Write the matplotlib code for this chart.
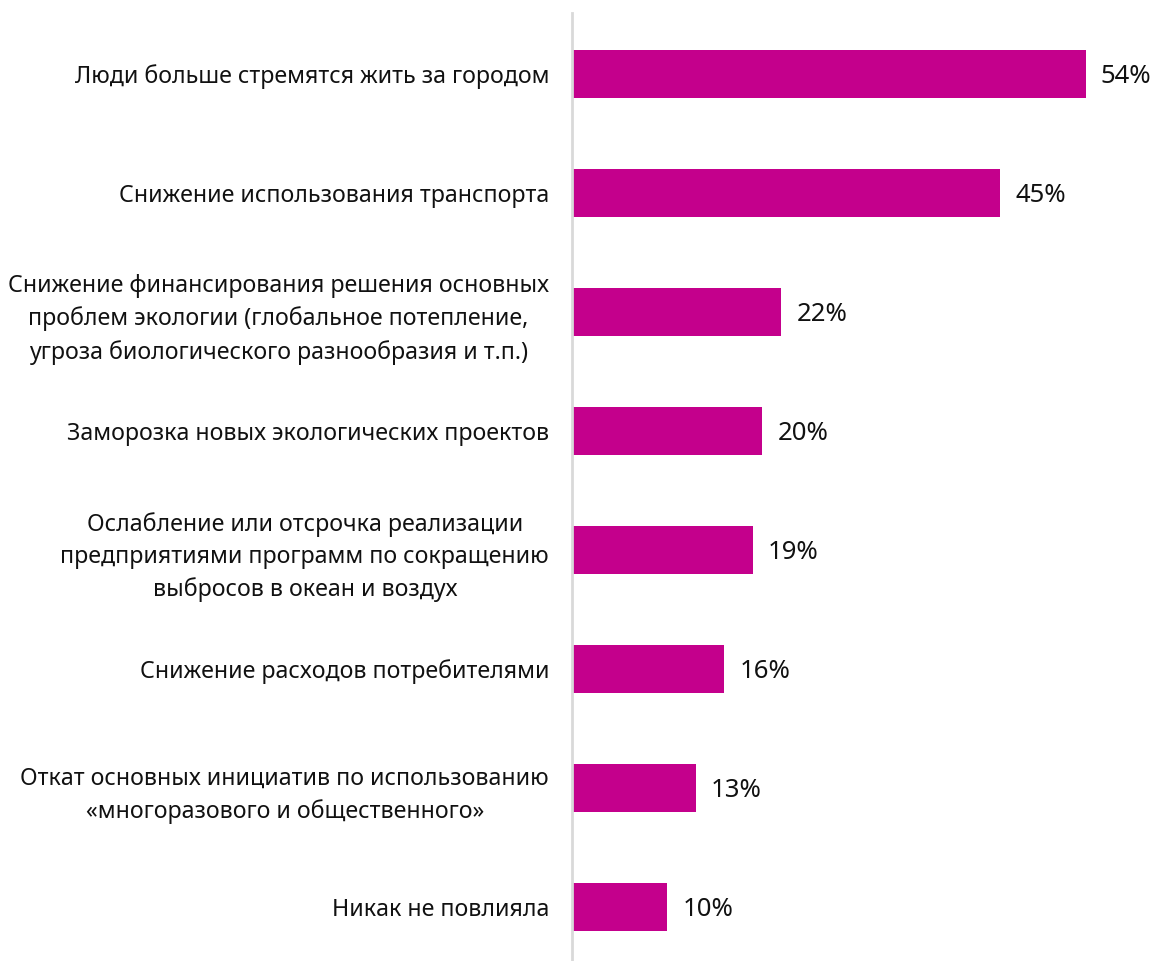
import matplotlib.pyplot as plt

categories = [
    "Люди больше стремятся жить за городом",
    "Снижение использования транспорта",
    "Снижение финансирования решения основных\nпроблем экологии (глобальное потепление,\nугроза биологического разнообразия и т.п.)",
    "Заморозка новых экологических проектов",
    "Ослабление или отсрочка реализации\nпредприятиями программ по сокращению\nвыбросов в океан и воздух",
    "Снижение расходов потребителями",
    "Откат основных инициатив по использованию\n«многоразового и общественного»",
    "Никак не повлияла",
]
values = [54, 45, 22, 20, 19, 16, 13, 10]

plt.rcParams['font.family'] = ['Noto Sans', 'DejaVu Sans']

fig = plt.figure(figsize=(11.56, 9.61), dpi=100)
ax = fig.add_axes([572 / 1156, 0, 1 - 572 / 1156, 1 - 13 / 961])

y = list(range(len(categories)))
ax.barh(y, values, height=0.403, color='#C4008C')

for yi, v in zip(y, values):
    ax.text(v + 1.6, yi + 0.02, f"{v}%", va='center', ha='left', fontsize=18.5, color='#111111')

ax.set_xlim(0, 61.4)
ax.set_ylim(7.453, -0.512)
ax.set_yticks(y)
ax.set_yticklabels(categories, fontsize=16.7, multialignment='center', color='#111111',
                   linespacing=1.45)
ax.tick_params(axis='y', length=0, pad=16.5)
ax.set_xticks([])

for s in ['top', 'right', 'bottom']:
    ax.spines[s].set_visible(False)
ax.spines['left'].set_color('#d9d9d9')
ax.spines['left'].set_linewidth(2)

fig.savefig('out.png', dpi=100)
